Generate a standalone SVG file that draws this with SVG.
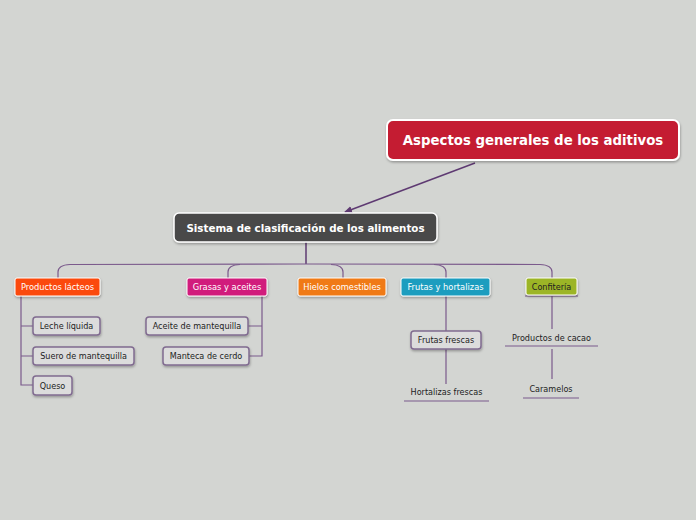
<svg xmlns="http://www.w3.org/2000/svg" width="696" height="520" viewBox="0 0 696 520">
<defs>
<filter id="sh" x="-20%" y="-20%" width="140%" height="160%"><feDropShadow dx="0.5" dy="1.5" stdDeviation="1" flood-color="#000" flood-opacity="0.3"/></filter>
<marker id="ah" markerWidth="8" markerHeight="8" refX="7" refY="4" orient="auto" markerUnits="userSpaceOnUse"><path d="M0,0.5 L8,4 L0,7.5 z" fill="#5e3a72"/></marker>
<style>
.bg{fill:#d3d5d2}
.ln{fill:none;stroke:#7b5a8c;stroke-width:1.2}
.cat{stroke:#fff;stroke-width:1;filter:url(#sh)}
.sub{fill:#dcdcdc;stroke:#806b90;stroke-width:1.5;filter:url(#sh)}
.t{font-family:"DejaVu Sans",Verdana,sans-serif;text-anchor:middle;dominant-baseline:central}
.tw{fill:#fff;font-size:8.3px}
.td{fill:#222;font-size:8.1px}
</style>
</defs>
<rect class="bg" width="696" height="520"/>
<g id="connectors">
<path d="M475,163 L345,212" fill="none" stroke="#5e3a72" stroke-width="1.5" marker-end="url(#ah)"/>
<path d="M306,242 V264" fill="none" stroke="#5e3a72" stroke-width="1.5"/>
<path class="ln" d="M58,278 V272 Q58,265 70,264.5 L306,264 L540,264.5 Q552,265 552,272 V278"/>
<path class="ln" d="M228,278 V272 Q228,265 240,264.5"/>
<path class="ln" d="M343,278 V272 Q343,265 331,264.5"/>
<path class="ln" d="M446,278 V272 Q446,265 434,264.5"/>
<path class="ln" d="M21,296 V385 H33 M21,326 H33 M21,356 H33"/>
<path class="ln" d="M262,296 V356 H249 M262,326 H248"/>
<path class="ln" d="M446,296 V331 M446,349 V384"/>
<path class="ln" d="M552,296 V329 M552,349 V379"/>
<path class="ln" d="M404,401 H489 M505,346 H598 M523,398 H579 M525,296 H578"/>
</g>
<g id="n-root">
<rect x="387" y="120" width="292" height="40" rx="6" fill="#c41f33" stroke="#fff" stroke-width="2" filter="url(#sh)"/>
<text class="t" x="533" y="140" fill="#fff" font-size="13.3" font-weight="bold">Aspectos generales de los aditivos</text>
</g>
<g id="n-sistema">
<rect x="174" y="213" width="263" height="29" rx="5" fill="#4a4a4a" stroke="#fff" stroke-width="1.5" filter="url(#sh)"/>
<text class="t" x="305.5" y="228" fill="#fff" font-size="10.3" font-weight="bold">Sistema de clasificación de los alimentos</text>
</g>
<g id="n-lacteos">
<rect class="cat" x="15" y="278" width="85" height="18" rx="2" fill="#fb4a0b"/>
<text class="t tw" x="57.5" y="287">Productos lácteos</text>
</g>
<g id="n-grasas">
<rect class="cat" x="187" y="278" width="80" height="18" rx="2" fill="#d11a7b"/>
<text class="t tw" x="227" y="287">Grasas y aceites</text>
</g>
<g id="n-hielos">
<rect class="cat" x="298" y="278" width="88" height="18" rx="2" fill="#f07a12"/>
<text class="t tw" x="342" y="287">Hielos comestibles</text>
</g>
<g id="n-frutas">
<rect class="cat" x="401" y="278" width="89" height="18" rx="2" fill="#1a9dbf"/>
<text class="t tw" x="445.5" y="287">Frutas y hortalizas</text>
</g>
<g id="n-confiteria">
<rect class="cat" x="526" y="278" width="51" height="17" rx="2" fill="#9cb525"/>
<text class="t td" x="551.5" y="286.5">Confitería</text>
</g>
<g id="n-leche">
<rect class="sub" x="33" y="317" width="67" height="18" rx="3"/>
<text class="t td" x="66.5" y="326">Leche líquida</text>
</g>
<g id="n-suero">
<rect class="sub" x="33" y="347" width="101" height="18" rx="3"/>
<text class="t td" x="83.5" y="356">Suero de mantequilla</text>
</g>
<g id="n-queso">
<rect class="sub" x="33" y="376" width="39" height="19" rx="3"/>
<text class="t td" x="52.5" y="385.5">Queso</text>
</g>
<g id="n-aceite">
<rect class="sub" x="146" y="317" width="102" height="18" rx="3"/>
<text class="t td" x="197" y="326">Aceite de mantequilla</text>
</g>
<g id="n-manteca">
<rect class="sub" x="163" y="347" width="86" height="18" rx="3"/>
<text class="t td" x="206" y="356">Manteca de cerdo</text>
</g>
<g id="n-frutasfrescas">
<rect class="sub" x="411" y="331" width="70" height="18" rx="3"/>
<text class="t td" x="446" y="340">Frutas frescas</text>
</g>
<g id="n-hortalizas">
<text class="t td" x="446.5" y="392">Hortalizas frescas</text>
</g>
<g id="n-cacao">
<text class="t td" x="551.5" y="338">Productos de cacao</text>
</g>
<g id="n-caramelos">
<text class="t td" x="551" y="389">Caramelos</text>
</g>
</svg>
